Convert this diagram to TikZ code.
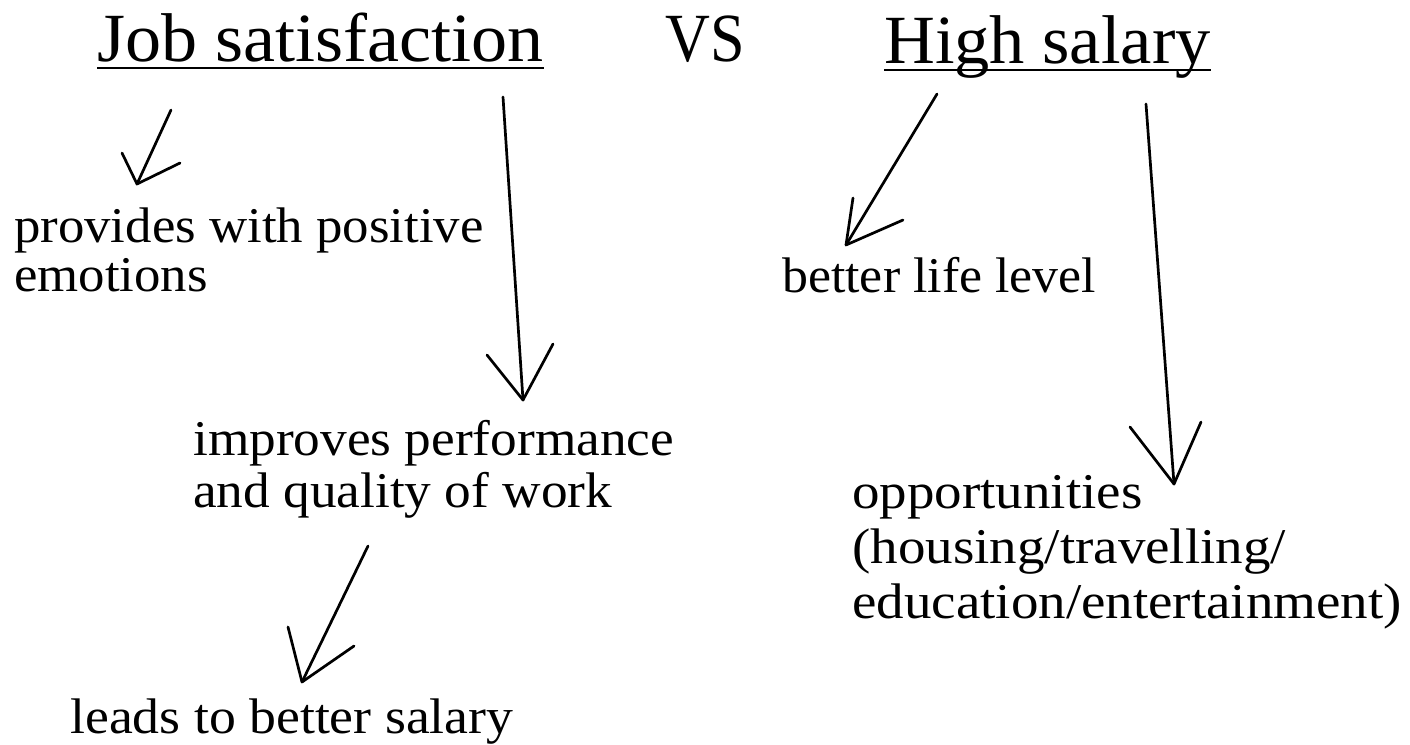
\documentclass[tikz,border=0pt]{standalone}
\usepackage{fontspec}
\setmainfont{Liberation Serif}
\usepackage{graphicx}
\newcommand{\sxlines}[2]{\scalebox{#1}[1]{\begin{tabular}[t]{@{}l@{}}#2\end{tabular}}}
\tikzset{
  titletext/.style={anchor=base west, inner sep=0pt, font=\fontsize{69}{72}\selectfont},
  bodytext/.style={anchor=base west, inner sep=0pt, font=\fontsize{50}{#1}\selectfont},
  bodytext/.default=52,
  arr/.style={line width=2.7pt, line cap=round, line join=round},
  uline/.style={line width=2.4pt}
}
\begin{document}
\begin{tikzpicture}[x=1pt,y=-1pt]
\useasboundingbox[fill=white] (0,0) rectangle (1410,744);
% titles
\node[titletext] (js) at (97,61) {\sxlines{1.045}{Job satisfaction}};
\node[titletext] (vs) at (665,61) {\sxlines{0.9}{VS}};
\node[titletext] (hs) at (884,63) {\sxlines{1.02}{High salary}};
\draw[uline] ([yshift=-7pt]js.base west) -- ([yshift=-7pt]js.base east);
\draw[uline] ([yshift=-7pt]hs.base west) -- ([yshift=-7pt]hs.base east);
% texts
\node[bodytext=49] (pe) at (14,242) {\sxlines{1.056}{provides with positive\\emotions}};
\node[bodytext=52] (ip) at (193,455) {\sxlines{1.066}{improves performance\\and quality of work}};
\node[bodytext] (ls) at (70,733) {\sxlines{1.075}{leads to better salary}};
\node[bodytext] (bl) at (782,292) {\sxlines{1.037}{better life level}};
\node[bodytext=55] (op) at (852,508) {\sxlines{1.1}{opportunities\\(housing/travelling/\\education/entertainment)}};
% arrow 1
\coordinate (a1s) at (171,110); \coordinate (a1t) at (137,184);
\coordinate (a1l) at (122,153); \coordinate (a1r) at (180,163);
\draw[arr] (a1s) -- (a1t); \draw[arr] (a1l) -- (a1t) -- (a1r);
% arrow 2
\coordinate (a2s) at (503,97); \coordinate (a2t) at (523,400);
\coordinate (a2l) at (487,355); \coordinate (a2r) at (553,344);
\draw[arr] (a2s) -- (a2t); \draw[arr] (a2l) -- (a2t) -- (a2r);
% arrow 3
\coordinate (a3s) at (368,546); \coordinate (a3t) at (302,682);
\coordinate (a3l) at (288,627); \coordinate (a3r) at (354,646);
\draw[arr] (a3s) -- (a3t); \draw[arr] (a3l) -- (a3t) -- (a3r);
% arrow 4
\coordinate (a4s) at (937,94); \coordinate (a4t) at (846,245);
\coordinate (a4l) at (853,198); \coordinate (a4r) at (903,220);
\draw[arr] (a4s) -- (a4t); \draw[arr] (a4l) -- (a4t) -- (a4r);
% arrow 5
\coordinate (a5s) at (1146,104); \coordinate (a5t) at (1174,484);
\coordinate (a5l) at (1130,427); \coordinate (a5r) at (1201,422);
\draw[arr] (a5s) -- (a5t); \draw[arr] (a5l) -- (a5t) -- (a5r);
\end{tikzpicture}
\end{document}
